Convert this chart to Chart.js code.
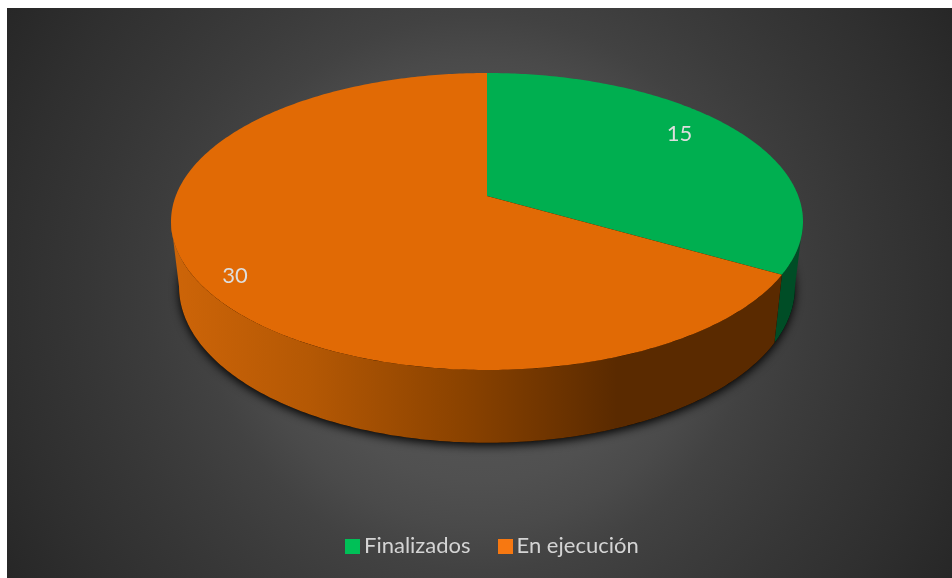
<!DOCTYPE html>
<html lang="es">
<head>
    <meta charset="UTF-8">
    <title>Estado de proyectos</title>
    <script src="https://cdn.jsdelivr.net/npm/chart.js"></script>
    <style>
        html, body { margin: 0; padding: 0; background: #fff; overflow: hidden; }
        #frame {
            position: absolute; left: 7px; top: 8px; width: 945px; height: 570px;
            background: radial-gradient(circle at 50% 50%, #5c5c5c 0px, #505050 188px, #4a4a4a 234px,
                #424242 278px, #3c3c3c 331px, #363636 392px, #2f2f2f 470px, #272727 551px);
        }
        #pie { position: absolute; left: 0; top: 0; }
        #legend {
            position: absolute; left: 338px; top: 521px; display: flex;
            font-family: Lato, sans-serif; font-size: 22px; color: #d4d4d4; white-space: nowrap;
        }
        .item { display: flex; align-items: center; margin-right: 27px; height: 30px; }
        .box { width: 15px; height: 15px; margin-right: 4px; margin-top: 5px; }
    </style>
</head>
<body>
    <div id="frame">
        <canvas id="pie" width="945" height="570"></canvas>
        <div id="legend"></div>
    </div>

    <script>
        const categories = ['Finalizados', 'En ejecución'];
        const values = [15, 30];

        const topColors = ['#00af50', '#e16a05'];
        const legendColors = ['#00c057', '#f77811'];

        // perspective disc: centre of the slices is not the middle of the ellipse
        const tilt = 0.1717;
        const topFace = { cx: 480, cy: 188, a: 311.3, b: 144.1 };
        const bottomFace = { cx: 480, cy: 252, a: 303.4, b: 151.4 };
        const labelRadius = [0.815, 0.895];
        const labelTurn = [-5, -4.3].map(d => d * Math.PI / 180);

        function project(face, angle, r) {
            const w = 1 - tilt * r * Math.sin(angle);
            return {
                x: face.cx + face.a * r * Math.cos(angle) / w,
                y: face.cy + face.b * r * Math.sin(angle) / w
            };
        }

        function rimPoints(face, from, to) {
            const pts = [];
            const steps = Math.max(2, Math.ceil(Math.abs(to - from) / (Math.PI / 240)));
            for (let i = 0; i <= steps; i++) {
                pts.push(project(face, from + (to - from) * i / steps, 1));
            }
            return pts;
        }

        function fillPoly(ctx, pts) {
            ctx.beginPath();
            pts.forEach((p, i) => i ? ctx.lineTo(p.x, p.y) : ctx.moveTo(p.x, p.y));
            ctx.closePath();
            ctx.fill();
        }

        function wallFill(ctx, index) {
            if (index === 0) return '#004d26';
            const g = ctx.createLinearGradient(173, 0, 610, 0);
            g.addColorStop(0, '#cc6408');
            g.addColorStop(0.3, '#b45804');
            g.addColorStop(0.65, '#8a4200');
            g.addColorStop(1, '#5a2a00');
            return g;
        }

        const pie3d = {
            id: 'pie3d',
            beforeDatasetsDraw(chart) {
                const ctx = chart.ctx;
                const arcs = chart.getDatasetMeta(0).data;
                // the wall silhouette runs between the widest points of both rims
                const lo = Math.asin(tilt);
                const hi = Math.PI - Math.asin(tilt);

                // shadow under the disc
                ctx.save();
                ctx.shadowColor = 'rgba(0,0,0,0.95)';
                ctx.shadowBlur = 10;
                ctx.shadowOffsetY = 3;
                ctx.fillStyle = '#000';
                fillPoly(ctx, rimPoints(bottomFace, 0, 2 * Math.PI));
                ctx.restore();

                // side wall, only the visible front part of each slice
                arcs.forEach((arc, i) => {
                    let a0 = arc.startAngle, a1 = arc.endAngle;
                    if (a0 < lo) a0 = lo;
                    if (a1 > hi) a1 = hi;
                    if (a1 <= a0) return;
                    ctx.fillStyle = wallFill(ctx, i);
                    fillPoly(ctx, rimPoints(topFace, a0, a1).concat(rimPoints(bottomFace, a1, a0)));
                });

                // top face
                arcs.forEach((arc, i) => {
                    ctx.fillStyle = topColors[i];
                    const centre = project(topFace, 0, 0);
                    fillPoly(ctx, [centre].concat(rimPoints(topFace, arc.startAngle, arc.endAngle)));
                });

                // value labels
                ctx.fillStyle = '#dedede';
                ctx.font = '22px Lato, sans-serif';
                ctx.textAlign = 'center';
                ctx.textBaseline = 'middle';
                arcs.forEach((arc, i) => {
                    const mid = (arc.startAngle + arc.endAngle) / 2 + labelTurn[i];
                    const p = project(topFace, mid, labelRadius[i]);
                    ctx.fillText(String(values[i]), p.x, p.y);
                });
                return false;
            }
        };

        new Chart(document.getElementById('pie'), {
            type: 'pie',
            data: {
                labels: categories,
                datasets: [{ data: values, backgroundColor: topColors, borderWidth: 0 }]
            },
            options: {
                responsive: false,
                animation: false,
                plugins: { legend: { display: false }, tooltip: { enabled: false } }
            },
            plugins: [pie3d]
        });

        const legend = document.getElementById('legend');
        categories.forEach((name, i) => {
            const item = document.createElement('div');
            item.className = 'item';
            const box = document.createElement('span');
            box.className = 'box';
            box.style.background = legendColors[i];
            item.appendChild(box);
            item.appendChild(document.createTextNode(name));
            legend.appendChild(item);
        });
    </script>
</body>
</html>
